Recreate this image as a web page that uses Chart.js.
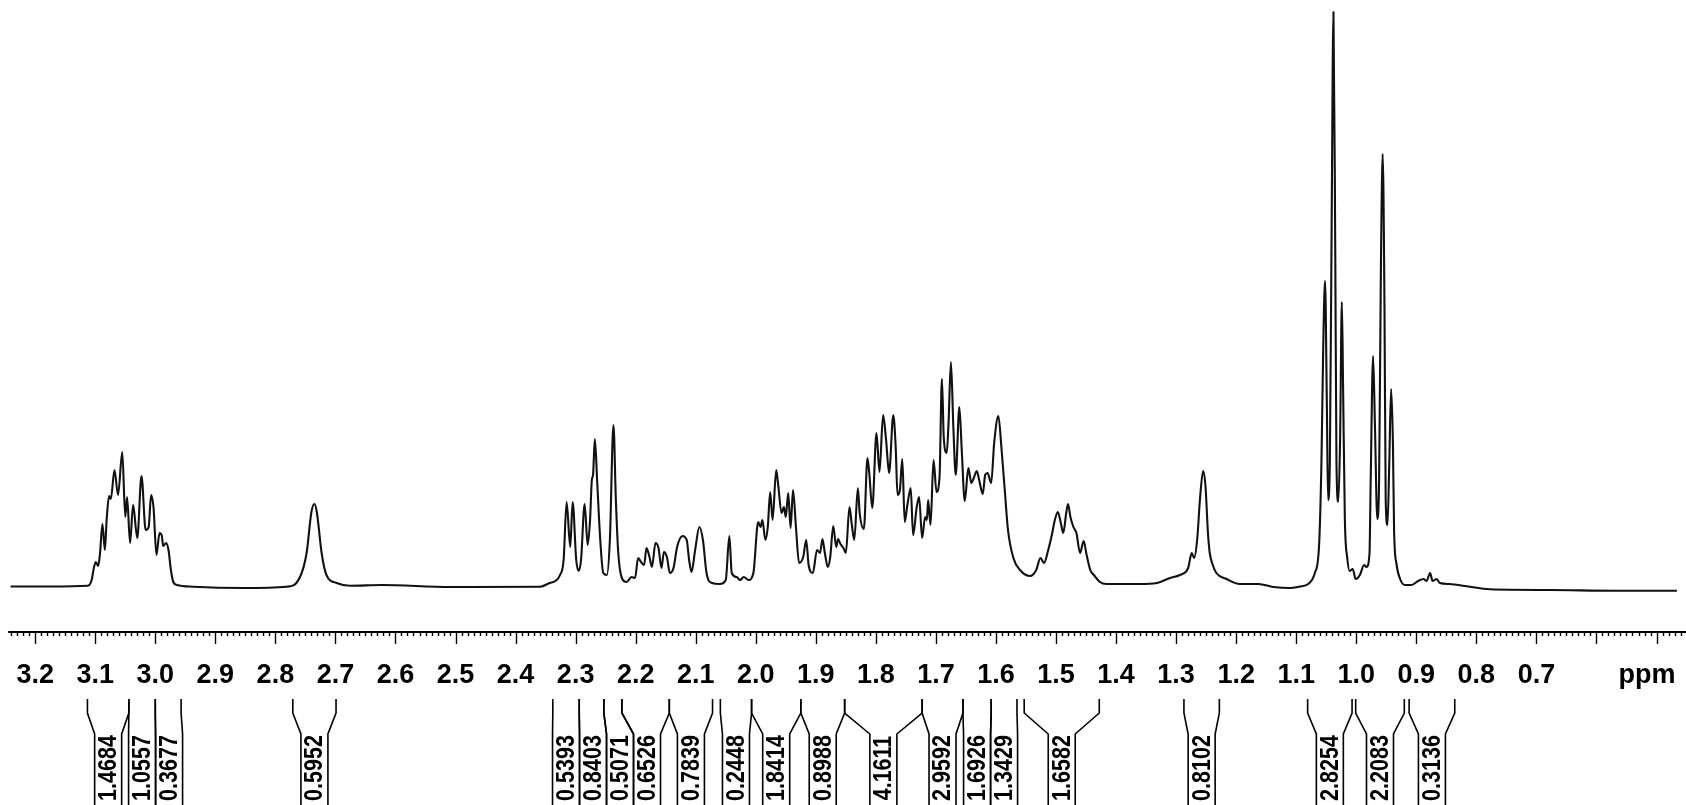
<!DOCTYPE html>
<html>
<head>
<meta charset="utf-8">
<script src="https://cdn.jsdelivr.net/npm/chart.js@4/dist/chart.umd.min.js"></script>
<style>
html,body{margin:0;padding:0;background:#fff;}
#wrap{width:1686px;height:805px;position:relative;}
</style>
</head>
<body>
<div id="wrap"><canvas id="c"></canvas></div>
<script>
// Chemical shift (ppm) of traced points, high -> low
const shiftPpm = [
3.241,3.175,3.112,3.106,3.102,3.099,3.095,3.092,3.088,3.084,3.081,3.077,3.074,3.068,3.062,3.055,3.050,3.047,3.042,3.037,
3.030,3.023,3.016,3.011,3.007,3.003,2.998,2.993,2.989,2.987,2.982,2.978,2.974,2.970,2.964,2.937,2.853,2.781,2.759,2.748,
2.740,2.735,2.731,2.723,2.715,2.698,2.676,2.623,2.509,2.359,2.343,2.334,2.326,2.320,2.315,2.309,2.305,2.299,2.295,2.291,
2.285,2.280,2.276,2.273,2.271,2.268,2.264,2.259,2.254,2.248,2.243,2.237,2.233,2.229,2.223,2.215,2.207,2.201,2.196,2.191,
2.186,2.182,2.177,2.173,2.167,2.162,2.157,2.153,2.148,2.143,2.137,2.131,2.122,2.115,2.111,2.107,2.101,2.094,2.088,2.082,
2.073,2.060,2.050,2.044,2.040,2.032,2.026,2.020,2.012,2.004,1.996,1.992,1.989,1.984,1.980,1.976,1.972,1.966,1.963,1.957,
1.953,1.950,1.946,1.942,1.938,1.933,1.928,1.921,1.916,1.912,1.905,1.898,1.893,1.889,1.885,1.880,1.876,1.871,1.866,1.863,
1.859,1.854,1.850,1.844,1.840,1.836,1.830,1.827,1.820,1.814,1.811,1.806,1.799,1.794,1.788,1.783,1.778,1.771,1.767,1.764,
1.760,1.756,1.752,1.748,1.742,1.738,1.732,1.728,1.723,1.718,1.715,1.713,1.709,1.704,1.699,1.694,1.690,1.687,1.682,1.679,
1.675,1.671,1.667,1.661,1.657,1.652,1.646,1.641,1.637,1.632,1.628,1.622,1.618,1.614,1.608,1.603,1.596,1.591,1.585,1.580,
1.571,1.560,1.543,1.533,1.526,1.520,1.513,1.507,1.502,1.497,1.492,1.488,1.483,1.480,1.476,1.471,1.466,1.460,1.454,1.449,
1.443,1.437,1.427,1.416,1.388,1.360,1.332,1.310,1.294,1.280,1.274,1.270,1.265,1.260,1.255,1.251,1.247,1.244,1.239,1.233,
1.216,1.194,1.163,1.138,1.110,1.094,1.080,1.069,1.062,1.058,1.055,1.052,1.049,1.047,1.044,1.041,1.038,1.035,1.033,1.030,
1.027,1.024,1.022,1.019,1.015,1.011,1.006,1.001,0.994,0.987,0.983,0.978,0.976,0.972,0.969,0.965,0.962,0.959,0.956,0.953,
0.951,0.948,0.945,0.942,0.939,0.937,0.933,0.927,0.919,0.908,0.897,0.888,0.883,0.877,0.873,0.866,0.861,0.844,0.819,0.777,
0.677,0.566,0.466
];
// Intensity (arbitrary units) at each traced point
const intensity = [
1.5,1.5,2.3,8,21,26,22,35,64,38,68,92,89,118,93,136,71,91,45,83,
50,112,58,61,93,81,33,55,52,42,45,38,18,6,3,1.3,0,1.3,11,35,
76,84,76,35,13,5,2.3,3,1,1.3,5,7,13,28,86,41,86,28,17,28,
84,43,68,108,113,149,105,48,15,13,48,163,88,35,10,6,11,10,30,26,
23,40,31,21,45,40,20,36,31,15,20,41,52,48,28,16,38,61,48,15,
5,4,8,52,15,11,8,11,8,15,66,61,68,48,61,96,68,118,105,75,
81,71,95,60,98,60,25,31,48,23,15,38,35,49,35,21,31,62,41,49,
44,40,35,81,63,48,100,75,59,130,115,80,155,116,173,148,115,173,141,93,
98,129,66,81,100,53,81,91,50,71,68,88,63,128,96,111,209,151,135,165,
226,161,113,181,138,87,120,105,110,117,108,94,113,115,105,145,172,141,95,58,
30,18,12,18,30,25,38,53,68,76,65,55,75,84,71,61,55,35,47,33,
18,13,6,4,4,4,5,10,13,20,35,30,48,91,117,101,55,35,23,15,
9,4,4,1,0,1.5,4,15,42,126,242,307,184,88,126,365,576,338,126,86,
146,286,203,69,30,17,19,9,13,23,21,34,107,232,165,69,107,319,434,280,
88,63,126,199,146,57,24,9,3,3,7,9,7,15,7,9,5,4,2,-1.3,
-2,-2.7,-2.7
];
// Axis tick labels
const tickValues = [3.2,3.1,3.0,2.9,2.8,2.7,2.6,2.5,2.4,2.3,2.2,2.1,2.0,1.9,1.8,1.7,1.6,1.5,1.4,1.3,1.2,1.1,1.0,0.9,0.8,0.7];
const tickLabels = ['3.2','3.1','3.0','2.9','2.8','2.7','2.6','2.5','2.4','2.3','2.2','2.1','2.0','1.9','1.8','1.7','1.6','1.5','1.4','1.3','1.2','1.1','1.0','0.9','0.8','0.7'];
const axisUnit = 'ppm';
// Integration regions
const integralLabels = ['1.4684','1.0557','0.3677','0.5952','0.5393','0.8403','0.5071','0.6526','0.7839','0.2448','1.8414','0.8988','4.1611','2.9592','1.6926','1.3429','1.6582','0.8102','2.8254','2.2083','0.3136'];
const integralStart = [3.113,3.044,3.000,2.771,2.338,2.294,2.253,2.223,2.144,2.059,2.007,1.925,1.852,1.723,1.655,1.608,1.553,1.287,1.081,1.001,0.912];
const integralEnd   = [3.044,3.000,2.957,2.699,2.294,2.253,2.223,2.144,2.072,2.007,1.925,1.852,1.723,1.655,1.608,1.565,1.428,1.228,1.007,0.920,0.836];

const FONT = '"Liberation Sans", Arial, Helvetica, sans-serif';
const TICK_SIZE = 27;
const AXIS_H = 173;
const LABEL_PAD = 27;
const LINE_H = 1.2;

const points = shiftPpm.map((p, i) => ({x: p, y: intensity[i]}));

const nmrPlugin = {
  id: 'nmr',
  afterDraw(chart) {
    const ctx = chart.ctx;
    const xs = chart.scales.x;
    const axisY = chart.chartArea.bottom;
    ctx.save();
    ctx.strokeStyle = '#000';
    ctx.fillStyle = '#000';
    // ruler line
    const x0 = xs.getPixelForValue(3.245), x1 = xs.getPixelForValue(0.45);
    ctx.lineWidth = 2;
    ctx.beginPath(); ctx.moveTo(x0, axisY); ctx.lineTo(x1, axisY); ctx.stroke();
    // ruler ticks every 0.01 ppm
    ctx.lineWidth = 1.4;
    for (let i = 46; i <= 324; i++) {
      const x = Math.round(xs.getPixelForValue(i / 100)) + 0.5;
      const len = (i % 10 === 0) ? 12 : 4;
      ctx.beginPath(); ctx.moveTo(x, axisY); ctx.lineTo(x, axisY + len); ctx.stroke();
    }
    // unit
    ctx.font = 'bold ' + TICK_SIZE + 'px ' + FONT;
    ctx.textAlign = 'center';
    ctx.textBaseline = 'middle';
    ctx.fillText(axisUnit, chart.width - 39, axisY + LABEL_PAD + TICK_SIZE * LINE_H / 2);

    // integrals
    const half = 13.5;
    const centers = [];
    for (let i = 0; i < integralLabels.length; i++) {
      const a = xs.getPixelForValue(integralStart[i]);
      const b = xs.getPixelForValue(integralEnd[i]);
      let c = (a + b) / 2;
      if (i > 0 && c < centers[i - 1] + 2 * half) c = centers[i - 1] + 2 * half;
      centers.push(c);
    }
    const yTop = 699, yK1 = 713, yK2 = 734, yBot = 806;
    ctx.lineWidth = 1.6;
    for (let i = 0; i < integralLabels.length; i++) {
      const a = xs.getPixelForValue(integralStart[i]);
      const b = xs.getPixelForValue(integralEnd[i]);
      const c = centers[i];
      ctx.beginPath();
      ctx.moveTo(a, yTop); ctx.lineTo(a, yK1); ctx.lineTo(c - half, yK2); ctx.lineTo(c - half, yBot);
      ctx.moveTo(b, yTop); ctx.lineTo(b, yK1); ctx.lineTo(c + half, yK2); ctx.lineTo(c + half, yBot);
      ctx.stroke();
      ctx.save();
      ctx.translate(c, 768);
      ctx.rotate(-Math.PI / 2);
      ctx.scale(0.86, 1);
      ctx.font = 'bold 25px ' + FONT;
      ctx.textAlign = 'center';
      ctx.textBaseline = 'middle';
      ctx.fillText(integralLabels[i], 0, 1);
      ctx.restore();
    }
    ctx.restore();
  }
};

new Chart(document.getElementById('c'), {
  type: 'line',
  data: {
    datasets: [{
      data: points,
      borderColor: '#111',
      borderWidth: 2.1,
      pointRadius: 0,
      cubicInterpolationMode: 'monotone',
      fill: false,
      borderJoinStyle: 'round'
    }]
  },
  options: {
    responsive: true,
    maintainAspectRatio: false,
    animation: false,
    events: [],
    layout: { padding: 0, autoPadding: false },
    plugins: { legend: { display: false }, tooltip: { enabled: false }, title: { display: false } },
    scales: {
      x: {
        type: 'linear',
        reverse: true,
        min: 0.4509,
        max: 3.2586,
        position: 'bottom',
        grid: { display: false, drawTicks: false },
        border: { display: false },
        ticks: {
          autoSkip: false,
          maxRotation: 0,
          padding: LABEL_PAD,
          color: '#000',
          font: { family: FONT, size: TICK_SIZE, weight: 'bold', lineHeight: LINE_H },
          callback: (v) => {
            const k = tickValues.findIndex(t => Math.abs(t - v) < 1e-6);
            return k >= 0 ? tickLabels[k] : '';
          }
        },
        afterBuildTicks: (s) => { s.ticks = tickValues.map(v => ({ value: v })); },
        afterFit: (s) => {
          s.height = AXIS_H;
          s.paddingLeft = 0; s.paddingRight = 0; s.paddingTop = 0; s.paddingBottom = 0;
        }
      },
      y: {
        display: false,
        min: -44,
        max: 588
      }
    }
  },
  plugins: [nmrPlugin]
});
</script>
</body>
</html>
